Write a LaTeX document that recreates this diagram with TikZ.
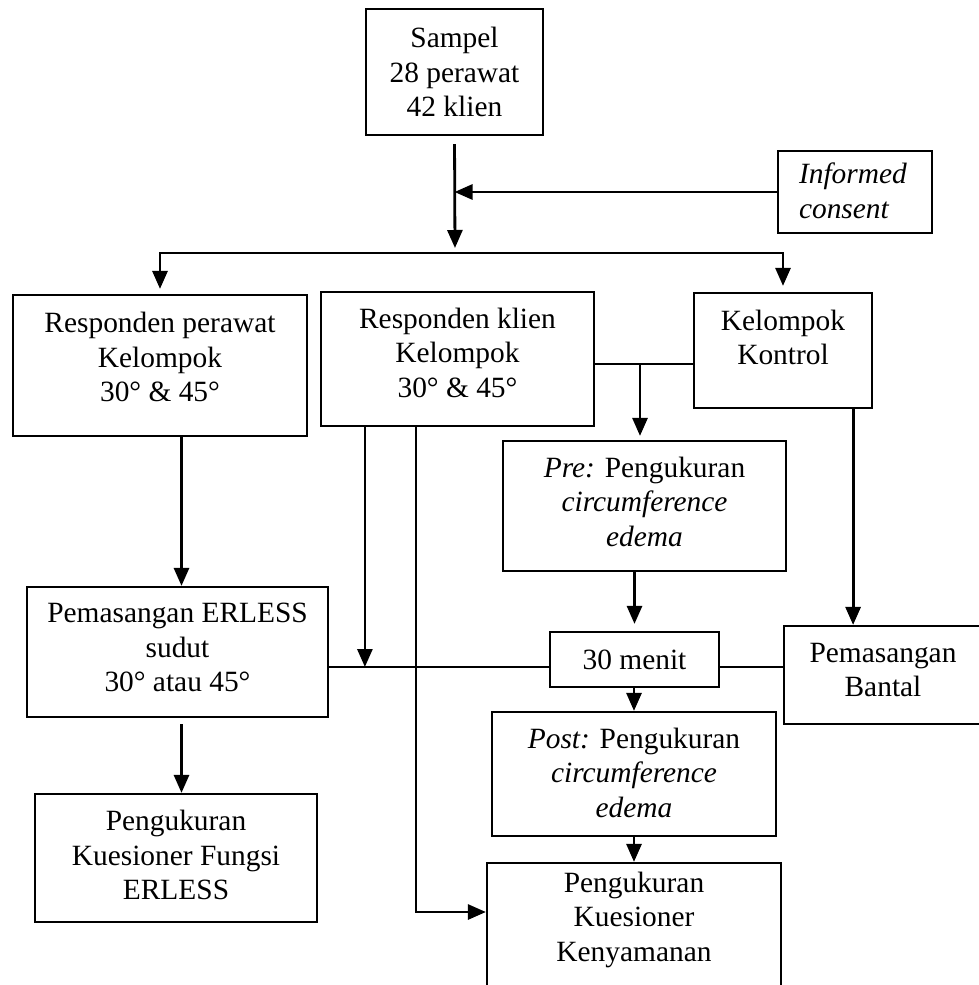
\documentclass[tikz,border=0pt]{standalone}
\usepackage{fontspec}
\setmainfont{Liberation Serif}
\usetikzlibrary{arrows.meta,calc}

\newcommand{\jarak}[1]{\rule[-#1]{0pt}{#1}}

\tikzset{
  kotak/.style={draw, line width=2.2pt, align=center, inner sep=0pt,
    font=\fontsize{29.4}{34.5}\selectfont},
  panah/.style={-{Triangle[length=18pt,width=15pt]}, line width=2.8pt},
  garis/.style={line width=1.6pt},
}

\begin{document}
\begin{tikzpicture}[%
      x=1pt, y=-1pt,
      ]
      \useasboundingbox (0,0) rectangle (979,985);

      \node [kotak, minimum width=177pt, minimum height=126pt] (sampel) at (454.5,72) {Sampel\\28 perawat\\42 klien};
      \node [kotak, align=left, text width=112pt, inner xsep=21pt, minimum height=82pt] (consent) at (855,192) {\textit{Informed}\\\textit{consent}\jarak{3pt}};

      \node [kotak, minimum width=294pt, minimum height=141pt] (perawat) at (160,365.5) {Responden perawat\\Kelompok\\30° \& 45°\jarak{17pt}};
      \node [kotak, minimum width=273pt, minimum height=134pt] (klien) at (457.5,359) {Responden klien\\Kelompok\\30° \& 45°\jarak{13pt}};
      \node [kotak, minimum width=178pt, minimum height=115pt] (kontrol) at (783,350.5) {Kelompok\\Kontrol\jarak{26pt}};

      \node [kotak, minimum width=283pt, minimum height=130pt] (pre) at (644.5,506) {\textit{Pre:} Pengukuran\\\textit{circumference}\\\textit{edema}\jarak{9pt}};
      \node [kotak, minimum width=169pt, minimum height=55pt] (menit) at (634.5,659.5) {30 menit};
      \node [kotak, minimum width=301pt, minimum height=130pt] (erless) at (177.5,652) {Pemasangan ERLESS\\sudut\\30° atau 45°\jarak{9pt}};
      \node [kotak, minimum width=198pt, minimum height=98pt] (bantal) at (883,675) {Pemasangan\\Bantal\jarak{10pt}};

      \node [kotak, minimum width=282pt, minimum height=128pt] (fungsi) at (176,858) {Pengukuran\\Kuesioner Fungsi\\ERLESS\jarak{6pt}};
      \node [kotak, minimum width=284pt, minimum height=124pt] (post) at (634,774) {\textit{Post:} Pengukuran\\\textit{circumference}\\\textit{edema}\jarak{3pt}};
      \node [kotak, minimum width=294pt, minimum height=138pt] (nyaman) at (634,932) {Pengukuran\\Kuesioner\\Kenyamanan\jarak{31pt}};

      \coordinate (cabang) at (455,253);
      \coordinate (sambung) at (640,364);
      \coordinate (jalur) at (0,667);

      \draw [panah, shorten <=8pt, shorten >=5pt] (sampel.south) -- (cabang);
      \draw [panah] (consent.west) -- (sampel.south |- consent.west);
      \draw [panah, shorten >=5pt] (cabang) -| (perawat.north);
      \draw [panah, shorten >=6pt] (cabang) -| (kontrol.north);

      \draw [garis] (klien.east |- sambung) -- (kontrol.west |- sambung);
      \draw [panah, shorten >=4pt] (sambung) -- (sambung |- pre.north);
      \draw [panah, shorten >=7pt] (menit.north |- pre.south) -- (menit.north);
      \draw [panah] (post.north |- menit.south) -- (post.north);
      \draw [panah] (nyaman.north |- post.south) -- (nyaman.north);

      \draw [panah] ($(erless.north |- perawat.south)+(4,0)$) coordinate (k0) -- (k0 |- erless.north);
      \draw [panah, shorten <=6pt] (k0 |- erless.south) -- (k0 |- fungsi.north);

      \draw [panah] ($(klien.south west)+(45,0)$) coordinate (k1) -- (k1 |- jalur);
      \draw [panah] ($(klien.south west)+(96,0)$) |- ([yshift=20pt]nyaman.west);
      \draw [panah] ($(kontrol.south east)+(-20,0)$) coordinate (k3) -- (k3 |- bantal.north);

      \draw [garis] (erless.east |- jalur) -- (menit.west |- jalur);
      \draw [garis] (menit.east |- jalur) -- (bantal.west |- jalur);
\end{tikzpicture}
\end{document}
